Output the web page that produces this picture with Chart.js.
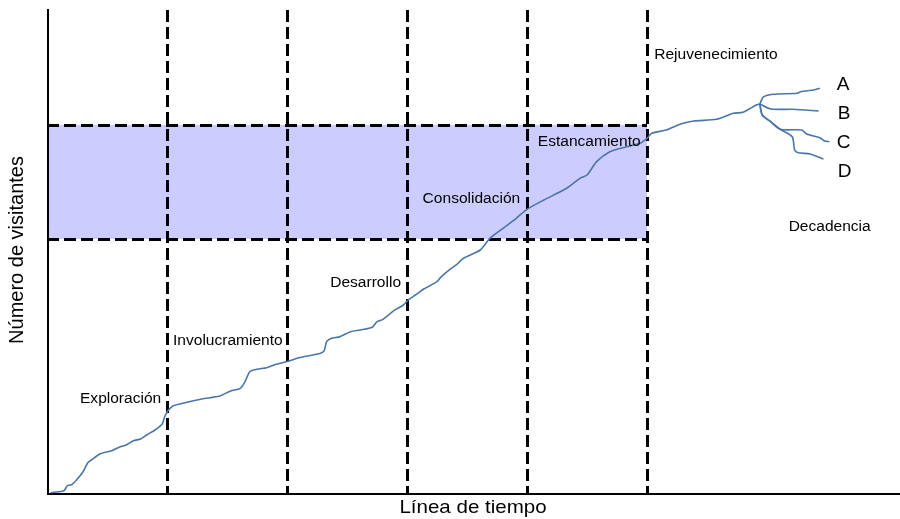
<!DOCTYPE html>
<html>
<head>
<meta charset="utf-8">
<script src="https://cdn.jsdelivr.net/npm/chart.js@4.4.0/dist/chart.umd.min.js"></script>
<style>
  html, body { margin: 0; padding: 0; background: #ffffff; }
  #wrap { width: 900px; height: 519px; }
</style>
</head>
<body>
<div id="wrap"><canvas id="c" width="900" height="519"></canvas></div>
<script>
// ---- Data (time units on x, visitor index 0-100 on y) ----
const phaseNames = ["Exploración", "Involucramiento", "Desarrollo", "Consolidación", "Estancamiento", "Rejuvenecimiento", "Decadencia"];
const phaseBoundaries = [1, 2, 3, 4, 5];
const capacityRange = [52.6, 76.1];
const branchLabels = ["A", "B", "C", "D"];
const xAxisTitle = "Línea de tiempo";
const yAxisTitle = "Número de visitantes";

const mainTime = [0.03,0.14,0.17,0.21,0.25,0.30,0.34,0.37,0.44,0.54,0.61,0.66,0.72,0.78,0.83,0.90,0.96,0.98,1.00,1.05,1.14,1.29,1.44,1.53,1.61,1.65,1.69,1.75,1.83,1.91,2.00,2.11,2.28,2.31,2.33,2.37,2.44,2.53,2.61,2.71,2.75,2.80,2.89,2.97,3.01,3.07,3.14,3.25,3.28,3.36,3.41,3.47,3.61,3.69,3.80,3.91,4.00,4.14,4.33,4.44,4.50,4.58,4.69,4.83,4.94,5.00,5.04,5.16,5.28,5.39,5.58,5.72,5.80,5.91,5.94];
const mainVisitors = [0.27,0.68,1.71,2.00,3.03,4.60,6.45,7.01,8.25,8.93,9.75,10.10,10.99,11.34,12.16,13.20,14.43,15.88,16.91,18.14,18.76,19.59,20.21,21.24,21.79,23.15,25.22,25.71,26.04,26.74,27.32,28.14,29.01,29.55,31.40,32.10,32.43,33.46,33.81,34.37,35.53,36.02,37.79,38.97,40.00,41.03,42.27,43.77,44.68,46.39,47.22,48.60,50.31,52.72,54.78,56.85,58.70,60.62,63.03,65.09,65.77,68.52,70.58,71.61,72.31,73.34,74.37,75.05,76.29,76.91,77.26,78.49,78.70,80.21,80.41];

const branchATime = [5.94,5.97,6.05,6.25,6.28,6.39,6.44];
const branchAVisitors = [80.41,81.86,82.41,82.62,82.95,83.30,83.65];
const branchBTime = [5.94,6.03,6.22,6.43];
const branchBVisitors = [80.41,79.38,79.32,78.97];
const branchCTime = [5.94,5.96,6.03,6.11,6.29,6.33,6.44,6.48,6.52];
const branchCVisitors = [80.41,78.14,76.76,75.20,75.05,74.23,73.46,72.78,72.64];
const branchDTime = [5.94,5.96,6.03,6.11,6.21,6.23,6.26,6.36,6.47];
const branchDVisitors = [80.41,78.14,76.76,75.20,73.67,70.93,70.37,70.10,69.07];

// ---- Helpers ----
const zip = (xs, ys) => xs.map((x, i) => ({ x: x, y: ys[i] }));
const lineColor = '#4a76a8';
function series(xs, ys) {
  return { data: zip(xs, ys), borderColor: lineColor, borderWidth: 1.6, pointRadius: 0, tension: 0.25, fill: false };
}

// label anchors in data units (left edge, vertical middle)
const phaseLabelAnchors = [[0.275,19.6],[1.05,31.5],[2.36,43.5],[3.13,60.8],[4.09,72.6],[5.06,90.5],[6.18,55.05]];
const branchLabelAnchors = [[6.58,84.3],[6.59,78.5],[6.58,72.4],[6.59,66.5]];

function drawStretched(ctx, text, x, y, sx) {
  ctx.save();
  ctx.translate(x, y);
  ctx.scale(sx, 1);
  ctx.fillText(text, 0, 0);
  ctx.restore();
}

const lifecyclePlugin = {
  id: 'lifecycle',
  beforeDatasetsDraw(chart) {
    const ctx = chart.ctx, xs = chart.scales.x, ys = chart.scales.y, area = chart.chartArea;
    ctx.save();
    // shaded capacity band
    const x0 = xs.getPixelForValue(0), x5 = xs.getPixelForValue(phaseBoundaries[phaseBoundaries.length - 1]);
    const yA = ys.getPixelForValue(capacityRange[1]), yB = ys.getPixelForValue(capacityRange[0]);
    ctx.fillStyle = 'rgb(204,204,255)';
    ctx.fillRect(x0, yA, x5 - x0, yB - yA);
    // dashed lines
    ctx.strokeStyle = '#000';
    ctx.lineWidth = 3;
    ctx.setLineDash([12, 5]);
    phaseBoundaries.forEach(t => {
      const px = Math.round(xs.getPixelForValue(t)) + 0.5;
      ctx.beginPath();
      ctx.moveTo(px, area.top + 1);
      ctx.lineTo(px, ys.getPixelForValue(0));
      ctx.stroke();
    });
    capacityRange.forEach(v => {
      const py = Math.round(ys.getPixelForValue(v)) + 0.5;
      ctx.beginPath();
      ctx.moveTo(x0, py);
      ctx.lineTo(x5, py);
      ctx.stroke();
    });
    ctx.setLineDash([]);
    // axis lines
    ctx.lineWidth = 2;
    ctx.beginPath();
    ctx.moveTo(x0 + 1, area.top);
    ctx.lineTo(x0 + 1, ys.getPixelForValue(0));
    ctx.lineTo(area.right, ys.getPixelForValue(0));
    ctx.stroke();
    ctx.restore();
  },
  afterDatasetsDraw(chart) {
    const ctx = chart.ctx, xs = chart.scales.x, ys = chart.scales.y, area = chart.chartArea;
    ctx.save();
    ctx.fillStyle = '#000';
    ctx.textBaseline = 'middle';
    ctx.textAlign = 'left';
    ctx.font = '14px "Liberation Sans", Arial, sans-serif';
    phaseNames.forEach((name, i) => {
      const a = phaseLabelAnchors[i];
      drawStretched(ctx, name, xs.getPixelForValue(a[0]), ys.getPixelForValue(a[1]), 1.11);
    });
    ctx.font = '19px "Liberation Sans", Arial, sans-serif';
    branchLabels.forEach((name, i) => {
      const a = branchLabelAnchors[i];
      drawStretched(ctx, name, xs.getPixelForValue(a[0]), ys.getPixelForValue(a[1]), 1.0);
    });
    // axis titles
    ctx.font = '19px "Liberation Sans", Arial, sans-serif';
    ctx.textAlign = 'center';
    drawStretched(ctx, xAxisTitle, 473, 508, 1.08);
    ctx.save();
    ctx.font = '20px "Liberation Sans", Arial, sans-serif';
    ctx.translate(17, 250);
    ctx.rotate(-Math.PI / 2);
    ctx.fillText(yAxisTitle, 0, 0);
    ctx.restore();
    ctx.restore();
  }
};

new Chart(document.getElementById('c'), {
  type: 'line',
  data: {
    datasets: [
      series(mainTime, mainVisitors),
      series(branchATime, branchAVisitors),
      series(branchBTime, branchBVisitors),
      series(branchCTime, branchCVisitors),
      series(branchDTime, branchDVisitors)
    ]
  },
  options: {
    responsive: false,
    animation: false,
    devicePixelRatio: 1,
    layout: { padding: { left: 47, right: 0, top: 9, bottom: 25 } },
    plugins: { legend: { display: false }, tooltip: { enabled: false } },
    scales: {
      x: { type: 'linear', min: 0, max: 7.108, display: false },
      y: { type: 'linear', min: 0, max: 100, display: false }
    }
  },
  plugins: [lifecyclePlugin]
});
</script>
</body>
</html>
